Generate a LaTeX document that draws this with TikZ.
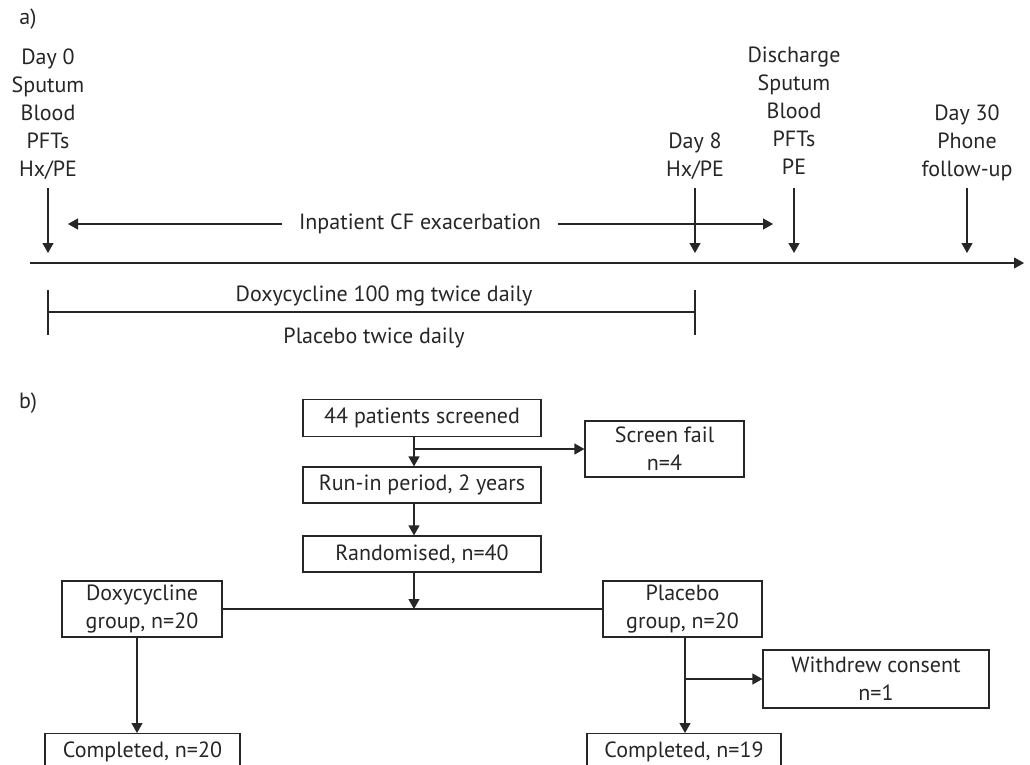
\documentclass[tikz,border=0pt]{standalone}
\usepackage{fontspec}
\setmainfont{PT Sans}
\usetikzlibrary{arrows.meta,%
                positioning}

\tikzset{
  flowbox/.style={draw, align=center, inner sep=0pt},
  lbl/.style={align=center, inner sep=0pt},
  tip/.style={-{Triangle[length=10pt,width=11pt]}},
}

\begin{document}
\begin{tikzpicture}[x=1pt,y=-1pt,line width=1.2pt,draw=black!85,text=black!85,
                    font=\fontsize{22}{28}\selectfont]
\useasboundingbox (0,0) rectangle (1030,765);
% a) time line
\node[lbl] (pa) at (28,19) {a)};
\node[lbl,anchor=north] (d0) at (48,48) {Day 0\\Sputum\\Blood\\PFTs\\Hx/PE};
\node[lbl,anchor=north] (d8) at (695,132) {Day 8\\Hx/PE};
\node[lbl,anchor=north] (dis) at (794,46) {Discharge\\Sputum\\Blood\\PFTs\\PE};
\node[lbl,anchor=north] (d30) at (967,104) {Day 30\\Phone\\follow-up};
\coordinate (top) at (0,188);
\coordinate (bot) at (0,253);
\foreach \n in {d0,d8,dis,d30}
  \draw[tip] (\n |- top) -- (\n |- bot);
\coordinate (ax0) at (30,263);
\coordinate (ax1) at (1024,263);
\draw[tip] (ax0) -- (ax1);
\node[lbl,inner xsep=16pt] (inp) at (420,224) {Inpatient CF exacerbation};
\coordinate (inL) at (68,224);
\coordinate (inR) at (773,224);
\draw[tip] (inp) -- (inL);
\draw[tip] (inp) -- (inR);
\coordinate (b0) at (48,312);
\coordinate (b1) at (695,312);
\draw (b0) -- (b1);
\draw (48,290) -- (48,335);
\draw (695,290) -- (695,335);
\node[lbl] (doxa) at (384,296) {Doxycycline 100 mg twice daily};
\node[lbl] (placa) at (374,338) {Placebo twice daily};

% b) flow chart
\node[lbl] (pb) at (28,403) {b)};
\node[flowbox,minimum width=238pt,minimum height=37pt] (scr) at (422,418) {44 patients screened};
\node[flowbox,minimum width=159pt,minimum height=56pt] (fail) at (664.5,449) {Screen fail\\n=4};
\node[flowbox,minimum width=238pt,minimum height=36pt] (runin) at (422,485) {Run-in period, 2 years};
\node[flowbox,minimum width=238pt,minimum height=36pt] (rand) at (422,554) {Randomised, n=40};
\node[flowbox,minimum width=160pt,minimum height=56pt] (doxy) at (142,609) {Doxycycline\\group, n=20};
\node[flowbox,minimum width=159pt,minimum height=56pt] (plac) at (682.5,609) {Placebo\\group, n=20};
\node[flowbox,minimum width=226pt,minimum height=58pt] (wdr) at (876,679) {Withdrew consent\\n=1};
\node[flowbox,minimum width=195pt,minimum height=36pt,anchor=north] (cdoxy) at (142.5,733) {Completed, n=20};
\node[flowbox,minimum width=194pt,minimum height=36pt,anchor=north] (cplac) at (684,733) {Completed, n=19};

\coordinate (spine) at (414,0);
\coordinate (dspine) at (137,0);
\coordinate (pspine) at (685,0);
\draw[tip] (scr.south -| spine) -- (runin.north -| spine);
\draw[tip] (spine |- fail.west) -- (fail.west);
\draw[tip] (runin.south -| spine) -- (rand.north -| spine);
\draw[tip] (rand.south -| spine) -- (spine |- doxy.east);
\draw (doxy.east) -- (plac.west);
\draw[tip] (doxy.south -| dspine) -- (cdoxy.north -| dspine);
\draw[tip] (plac.south -| pspine) -- (cplac.north -| pspine);
\draw[tip] (pspine |- wdr.west) -- (wdr.west);
\end{tikzpicture}
\end{document}
